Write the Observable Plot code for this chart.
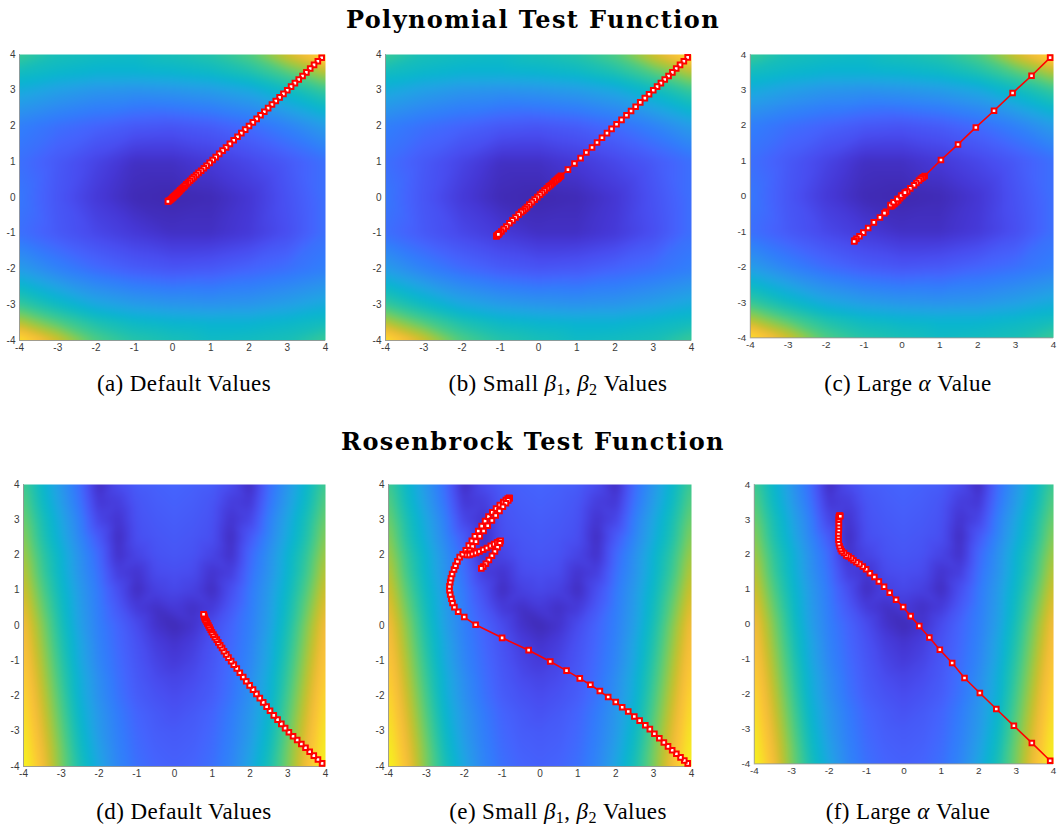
<!DOCTYPE html>
<html><head><meta charset="utf-8">
<script src="https://cdn.jsdelivr.net/npm/d3@7"></script>
<script src="https://cdn.jsdelivr.net/npm/@observablehq/plot@0.6"></script>
<style>
html,body{margin:0;padding:0;background:#fff;overflow:hidden}
#fig{position:relative;width:1057px;height:832px;overflow:hidden}
.title{position:absolute;transform:translateX(-50%);font-family:"DejaVu Serif",serif;font-weight:bold;font-size:24px;letter-spacing:1.4px;line-height:1;white-space:nowrap;color:#000}
.cap{position:absolute;transform:translateX(-50%);font-family:"Liberation Serif",serif;font-size:23px;letter-spacing:0.4px;line-height:1;white-space:nowrap;color:#000}
.cap sub{font-size:0.7em;vertical-align:-0.25em;line-height:0}
.panel{position:absolute}
</style></head><body><div id="fig"></div>
<script>
// ---------- data ----------
const tickValues = [-4, -3, -2, -1, 0, 1, 2, 3, 4];

// parula colormap stops
const parulaColors = ["#3e26a8","#4537d5","#484df0","#4563fd","#327cfc","#2b91ef","#20a5e3","#08b5d0","#19bfb6","#37c897","#64cd6f","#9dc943","#d1bf27","#f8ba3d","#fccf30","#f5e924","#f9fb15"];

// polynomial surface (colour level 0..1)
const polyX = [-4, -3, -2, -1, 0, 1, 2, 3, 4];
const polyY = [4, 3.5, 3, 2, 1, 0, -1, -2, -3, -3.5, -4];
const polyRows = [
  [0.57,0.50,0.48,0.47,0.50,0.53,0.60,0.76,0.93],
  [0.48,0.45,0.43,0.43,0.44,0.46,0.51,0.60,0.72],
  [0.40,0.36,0.33,0.32,0.33,0.35,0.39,0.47,0.56],
  [0.26,0.22,0.19,0.16,0.15,0.17,0.21,0.27,0.35],
  [0.22,0.16,0.10,0.04,0.04,0.07,0.11,0.16,0.22],
  [0.24,0.15,0.07,0.02,0.01,0.02,0.06,0.14,0.22],
  [0.22,0.16,0.11,0.07,0.04,0.04,0.07,0.13,0.22],
  [0.35,0.27,0.21,0.17,0.15,0.16,0.19,0.22,0.26],
  [0.56,0.47,0.39,0.35,0.33,0.32,0.33,0.36,0.40],
  [0.72,0.60,0.51,0.46,0.44,0.43,0.43,0.45,0.48],
  [0.93,0.76,0.60,0.53,0.50,0.47,0.48,0.50,0.57]
];

// Rosenbrock surface (colour level 0..1)
const rosenX = [-4,-3.5,-3,-2.5,-2,-1.5,-1,-0.5,0,0.5,1,1.5,2,2.5,3,3.5,4];
const rosenY = [4,3.5,3,2.5,2,1.5,1,0.5,0,-0.5,-1,-1.5,-2,-2.5,-3,-3.5,-4];
const rosenRows = [
  [0.58,0.45,0.33,0.21,0.03,0.12,0.17,0.18,0.19,0.18,0.17,0.12,0.03,0.21,0.33,0.45,0.58],
  [0.61,0.47,0.35,0.23,0.06,0.08,0.15,0.17,0.18,0.17,0.15,0.08,0.06,0.23,0.35,0.47,0.61],
  [0.64,0.50,0.38,0.26,0.10,0.05,0.14,0.16,0.17,0.16,0.14,0.05,0.10,0.26,0.38,0.50,0.64],
  [0.67,0.52,0.40,0.28,0.16,0.03,0.13,0.15,0.16,0.15,0.13,0.03,0.16,0.28,0.40,0.52,0.67],
  [0.70,0.55,0.43,0.31,0.20,0.04,0.10,0.14,0.15,0.14,0.10,0.04,0.20,0.31,0.43,0.55,0.70],
  [0.73,0.57,0.44,0.32,0.22,0.08,0.05,0.12,0.13,0.12,0.05,0.08,0.22,0.32,0.44,0.57,0.73],
  [0.76,0.60,0.46,0.34,0.24,0.13,0.03,0.09,0.11,0.09,0.03,0.13,0.24,0.34,0.46,0.60,0.76],
  [0.79,0.63,0.48,0.35,0.25,0.16,0.07,0.04,0.07,0.04,0.07,0.16,0.25,0.35,0.48,0.63,0.79],
  [0.82,0.66,0.50,0.36,0.26,0.19,0.12,0.05,0.02,0.05,0.12,0.19,0.26,0.36,0.50,0.66,0.82],
  [0.84,0.68,0.52,0.38,0.27,0.20,0.14,0.08,0.05,0.08,0.14,0.20,0.27,0.38,0.52,0.68,0.84],
  [0.86,0.70,0.54,0.39,0.28,0.21,0.15,0.10,0.07,0.10,0.15,0.21,0.28,0.39,0.54,0.70,0.86],
  [0.88,0.72,0.56,0.41,0.30,0.22,0.16,0.12,0.10,0.12,0.16,0.22,0.30,0.41,0.56,0.72,0.88],
  [0.90,0.74,0.58,0.42,0.31,0.23,0.17,0.14,0.12,0.14,0.17,0.23,0.31,0.42,0.58,0.74,0.90],
  [0.92,0.76,0.60,0.44,0.33,0.25,0.19,0.16,0.14,0.16,0.19,0.25,0.33,0.44,0.60,0.76,0.92],
  [0.94,0.78,0.62,0.46,0.34,0.26,0.20,0.17,0.16,0.17,0.20,0.26,0.34,0.46,0.62,0.78,0.94],
  [0.96,0.80,0.64,0.48,0.36,0.27,0.21,0.18,0.17,0.18,0.21,0.27,0.36,0.48,0.64,0.80,0.96],
  [0.98,0.82,0.65,0.50,0.38,0.28,0.22,0.19,0.18,0.19,0.22,0.28,0.38,0.50,0.65,0.82,0.98]
];

// optimiser trajectories [x, y]
const pathA = [[3.90,3.91],[3.80,3.81],[3.70,3.71],[3.60,3.61],[3.50,3.50],[3.40,3.40],[3.30,3.30],[3.20,3.20],[3.10,3.10],[3.00,3.00],[2.90,2.90],[2.80,2.80],[2.70,2.70],[2.60,2.60],[2.50,2.50],[2.40,2.40],[2.30,2.30],[2.20,2.20],[2.10,2.10],[2.00,2.00],[1.90,1.90],[1.80,1.80],[1.70,1.70],[1.60,1.60],[1.50,1.50],[1.40,1.40],[1.31,1.31],[1.22,1.22],[1.13,1.13],[1.05,1.05],[0.97,0.97],[0.89,0.89],[0.82,0.82],[0.75,0.75],[0.68,0.69],[0.62,0.63],[0.56,0.57],[0.51,0.52],[0.46,0.47],[0.41,0.42],[0.36,0.37],[0.32,0.32],[0.28,0.28],[0.24,0.24],[0.20,0.20],[0.17,0.16],[0.14,0.13],[0.11,0.10],[0.08,0.07],[0.05,0.04],[0.02,0.01],[0.00,-0.01],[-0.03,-0.04],[-0.06,-0.07],[-0.09,-0.09],[-0.11,-0.10],[-0.12,-0.11]];

const pathB = [[3.90,3.92],[3.80,3.81],[3.70,3.71],[3.60,3.61],[3.50,3.50],[3.40,3.40],[3.30,3.30],[3.20,3.20],[3.10,3.10],[3.00,3.00],[2.89,2.89],[2.78,2.78],[2.66,2.66],[2.54,2.54],[2.42,2.42],[2.30,2.30],[2.17,2.17],[2.04,2.05],[1.91,1.92],[1.79,1.80],[1.66,1.67],[1.53,1.54],[1.40,1.40],[1.25,1.26],[1.10,1.10],[0.94,0.95],[0.77,0.78],[0.59,0.61],[0.56,0.58],[0.53,0.55],[0.50,0.52],[0.46,0.49],[0.42,0.45],[0.37,0.40],[0.32,0.35],[0.27,0.31],[0.22,0.26],[0.16,0.20],[0.10,0.14],[0.04,0.08],[-0.03,0.01],[-0.10,-0.06],[-0.17,-0.13],[-0.24,-0.20],[-0.30,-0.27],[-0.35,-0.32],[-0.40,-0.37],[-0.45,-0.41],[-0.52,-0.48],[-0.60,-0.56],[-0.68,-0.64],[-0.76,-0.72],[-0.84,-0.81],[-0.91,-0.88],[-0.97,-0.95],[-1.02,-1.00],[-1.06,-1.04],[-1.09,-1.07],[-1.10,-1.09],[-1.09,-1.07],[-1.05,-1.03]];

const pathC = [[3.91,3.91],[3.42,3.40],[2.92,2.91],[2.43,2.41],[1.95,1.94],[1.48,1.46],[1.03,1.02],[0.60,0.57],[0.55,0.53],[0.50,0.49],[0.45,0.44],[0.38,0.37],[0.32,0.31],[0.22,0.22],[0.14,0.13],[0.08,0.08],[0.03,0.03],[0.00,0.00],[-0.05,-0.06],[-0.10,-0.12],[-0.15,-0.17],[-0.20,-0.22],[-0.25,-0.26],[-0.29,-0.29],[-0.30,-0.25],[-0.22,-0.17],[-0.12,-0.08],[-0.02,0.02],[0.08,0.10],[-0.42,-0.44],[-0.46,-0.48],[-0.58,-0.60],[-0.74,-0.74],[-0.89,-0.90],[-1.02,-1.03],[-1.12,-1.13],[-1.20,-1.20],[-1.25,-1.25],[-1.26,-1.28]];

const pathD = [[3.91,-3.91],[3.80,-3.80],[3.69,-3.69],[3.58,-3.58],[3.47,-3.47],[3.36,-3.36],[3.25,-3.25],[3.14,-3.14],[3.03,-3.03],[2.93,-2.91],[2.83,-2.79],[2.73,-2.67],[2.63,-2.55],[2.53,-2.42],[2.44,-2.30],[2.35,-2.18],[2.26,-2.06],[2.17,-1.94],[2.08,-1.82],[1.99,-1.70],[1.90,-1.58],[1.82,-1.46],[1.73,-1.34],[1.65,-1.22],[1.57,-1.11],[1.50,-1.01],[1.43,-0.91],[1.37,-0.82],[1.31,-0.73],[1.26,-0.64],[1.21,-0.56],[1.16,-0.48],[1.12,-0.40],[1.07,-0.33],[1.03,-0.26],[0.99,-0.19],[0.96,-0.12],[0.93,-0.06],[0.90,0.00],[0.87,0.06],[0.85,0.11],[0.82,0.16],[0.80,0.21],[0.79,0.25],[0.78,0.29],[0.77,0.32]];

const pathE = [[3.90,-3.91],[3.81,-3.83],[3.71,-3.74],[3.60,-3.64],[3.49,-3.54],[3.38,-3.43],[3.27,-3.32],[3.15,-3.20],[3.02,-3.07],[2.90,-2.94],[2.78,-2.83],[2.63,-2.70],[2.49,-2.58],[2.33,-2.44],[2.17,-2.32],[2.00,-2.17],[1.80,-2.03],[1.58,-1.86],[1.33,-1.68],[1.05,-1.50],[0.70,-1.28],[0.27,-1.02],[-0.30,-0.70],[-1.00,-0.35],[-1.70,0.02],[-2.00,0.24],[-2.16,0.39],[-2.26,0.52],[-2.31,0.64],[-2.34,0.76],[-2.37,0.88],[-2.39,1.00],[-2.39,1.11],[-2.37,1.23],[-2.35,1.34],[-2.32,1.46],[-2.27,1.59],[-2.23,1.70],[-2.18,1.82],[-2.12,1.94],[-2.04,2.02],[-1.96,2.13],[-1.88,2.27],[-1.80,2.40],[-1.72,2.53],[-1.63,2.68],[-1.54,2.82],[-1.45,2.96],[-1.36,3.09],[-1.26,3.21],[-1.16,3.32],[-1.06,3.42],[-0.97,3.50],[-0.90,3.56],[-0.85,3.60],[-0.81,3.62],[-0.80,3.61],[-0.84,3.55],[-0.90,3.47],[-0.98,3.37],[-1.07,3.25],[-1.17,3.12],[-1.27,2.98],[-1.38,2.83],[-1.49,2.68],[-1.59,2.53],[-1.69,2.38],[-1.78,2.24],[-1.86,2.12],[-1.91,2.04],[-1.93,2.00],[-1.86,2.00],[-1.78,2.03],[-1.69,2.06],[-1.60,2.10],[-1.50,2.15],[-1.40,2.20],[-1.30,2.26],[-1.21,2.31],[-1.13,2.36],[-1.07,2.39],[-1.04,2.40],[-1.06,2.33],[-1.12,2.22],[-1.19,2.10],[-1.27,1.98],[-1.35,1.86],[-1.43,1.75],[-1.50,1.67],[-1.55,1.62]];

const pathF = [[3.91,-3.91],[3.42,-3.40],[2.94,-2.91],[2.47,-2.43],[2.03,-1.97],[1.62,-1.54],[1.29,-1.11],[0.96,-0.73],[0.68,-0.38],[0.41,-0.05],[0.18,0.23],[-0.02,0.49],[-0.21,0.70],[-0.38,0.90],[-0.53,1.07],[-0.67,1.22],[-0.79,1.35],[-0.91,1.46],[-1.01,1.57],[-1.10,1.65],[-1.19,1.72],[-1.27,1.77],[-1.35,1.83],[-1.41,1.89],[-1.48,1.94],[-1.54,1.97],[-1.60,2.04],[-1.66,2.09],[-1.69,2.15],[-1.72,2.23],[-1.74,2.32],[-1.75,2.42],[-1.75,2.51],[-1.75,2.60],[-1.74,2.70],[-1.74,2.80],[-1.74,2.89],[-1.74,2.99],[-1.74,3.06],[-1.73,3.10],[-1.71,3.11],[-1.70,3.09]];

const rowTitles = ["Polynomial Test Function", "Rosenbrock Test Function"];
const captions = [
  "(a) Default Values",
  "(b) Small <i>β</i><sub>1</sub>, <i>β</i><sub>2</sub> Values",
  "(c) Large <i>α</i> Value",
  "(d) Default Values",
  "(e) Small <i>β</i><sub>1</sub>, <i>β</i><sub>2</sub> Values",
  "(f) Large <i>α</i> Value"
];

// ---------- build ----------
function gridTable(xs, ys, rows) {
  const out = [];
  rows.forEach((row, i) => row.forEach((v, j) => out.push({x: xs[j], y: ys[i], v})));
  return out;
}
const polyGrid = gridTable(polyX, polyY, polyRows);
const rosenGrid = gridTable(rosenX, rosenY, rosenRows);
const parulaInterp = d3.piecewise(d3.interpolateRgb, parulaColors);

const layout = [
  {x0: 19, x1: 325, y0: 54, y1: 340, grid: polyGrid, path: pathA, cx: 184, cy: 372},
  {x0: 385, x1: 691, y0: 54, y1: 340, grid: polyGrid, path: pathB, cx: 558, cy: 372},
  {x0: 750, x1: 1056, y0: 54, y1: 340, grid: polyGrid, path: pathC, cx: 908, cy: 372},
  {x0: 23, x1: 325, y0: 484, y1: 766, grid: rosenGrid, path: pathD, cx: 184, cy: 800},
  {x0: 388, x1: 691, y0: 484, y1: 766, grid: rosenGrid, path: pathE, cx: 558, cy: 800},
  {x0: 754, x1: 1056, y0: 484, y1: 766, grid: rosenGrid, path: pathF, cx: 908, cy: 800}
];

const fig = document.getElementById("fig");
const mL = 22, mR = 4, mT = 4, mB = 18;

layout.forEach((b, i) => {
  const chart = Plot.plot({
    width: b.x1 - b.x0 + mL + mR,
    height: b.y1 - b.y0 + mT + mB,
    marginLeft: mL, marginRight: mR, marginTop: mT, marginBottom: mB,
    style: {fontFamily: "'Liberation Sans', Arial, sans-serif", fontSize: "10px", color: "#3a3a3a", background: "transparent", overflow: "visible"},
    x: {domain: [-4, 4], ticks: tickValues, tickFormat: d => String(d), tickSize: 0, tickPadding: 3, label: null},
    y: {domain: [-4, 4], ticks: tickValues, tickFormat: d => String(d), tickSize: 0, tickPadding: 4, label: null},
    color: {type: "linear", domain: [0, 1], interpolate: parulaInterp},
    marks: [
      Plot.raster(b.grid, {x: "x", y: "y", fill: "v", x1: -4, x2: 4, y1: -4, y2: 4, interpolate: "barycentric", blur: 3}),
      Plot.ruleX([-4], {stroke: "#8a8a8a", strokeWidth: 0.8}),
      Plot.ruleY([-4], {stroke: "#8a8a8a", strokeWidth: 0.8}),
      Plot.line(b.path, {x: d => d[0], y: d => d[1], stroke: "#ff0000", strokeWidth: 1.6}),
      Plot.dot(b.path, {x: d => d[0], y: d => d[1], symbol: "square", r: 2.6, stroke: "#ff0000", strokeWidth: 2, fill: "#ffffff"})
    ]
  });
  const wrap = document.createElement("div");
  wrap.className = "panel";
  wrap.style.left = (b.x0 - mL) + "px";
  wrap.style.top = (b.y0 - mT) + "px";
  wrap.appendChild(chart);
  fig.appendChild(wrap);

  const cap = document.createElement("div");
  cap.className = "cap";
  cap.style.left = b.cx + "px";
  cap.style.top = b.cy + "px";
  cap.innerHTML = captions[i];
  fig.appendChild(cap);
});

[[533, 8], [533, 430]].forEach(([x, y], i) => {
  const t = document.createElement("div");
  t.className = "title";
  t.style.left = x + "px";
  t.style.top = y + "px";
  t.textContent = rowTitles[i];
  fig.appendChild(t);
});
</script></body></html>
